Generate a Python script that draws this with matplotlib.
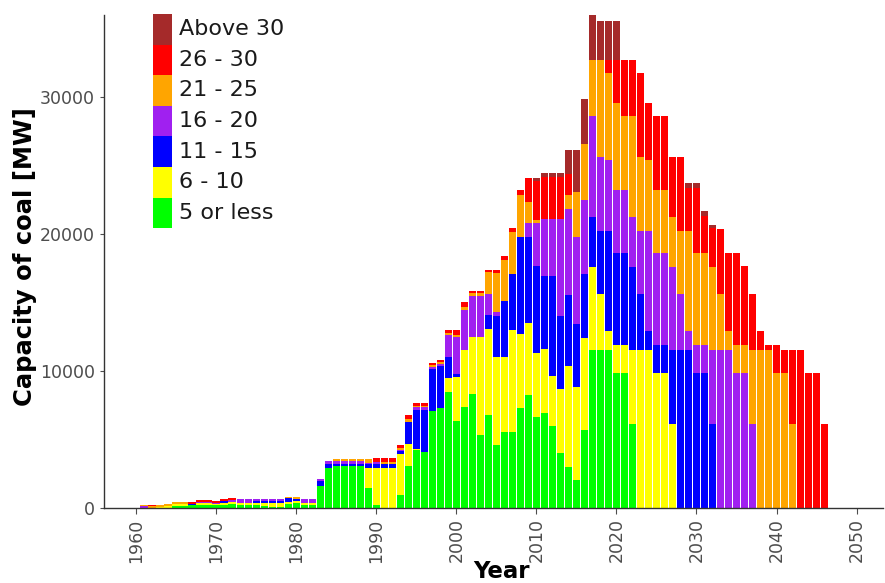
import matplotlib
matplotlib.use('Agg')
import matplotlib.pyplot as plt
from matplotlib.patches import Rectangle
import numpy as np

years = list(range(1961, 2047))

age_0_5 = [0, 0, 0, 0, 150, 150, 200, 250, 250, 220,
           250, 300, 250, 250, 220, 150, 100, 100, 320, 340,
           250, 250, 1610, 2950, 3070, 3070, 3070, 3070, 1490, 220,
           0, 0, 930, 3070, 4220, 4070, 7050, 7290, 8440, 6360,
           7340, 8360, 5340, 6780, 4570, 5580, 5580, 7270, 8270, 6660,
           6970, 6000, 4050, 3000, 2020, 5680, 11540, 11540, 11540, 9830,
           9830, 6170, 0, 0, 0, 0, 0, 0, 0, 0,
           0, 0, 0, 0, 0, 0, 0, 0, 0, 0,
           0, 0, 0, 0, 0, 0]
age_6_10 = [0, 0, 100, 170, 150, 150, 0, 100, 100, 100,
            150, 150, 150, 150, 170, 200, 250, 250, 120, 150,
            120, 120, 0, 0, 0, 0, 0, 0, 1460, 2730,
            2950, 2950, 3040, 1590, 70, 0, 0, 0, 1040, 3170,
            4190, 4150, 7170, 6290, 6430, 5420, 7410, 5430, 5210, 4630,
            4630, 3650, 4630, 7390, 6780, 6730, 6090, 4090, 1360, 2070,
            2070, 5370, 11540, 11540, 9830, 9830, 6170, 0, 0, 0,
            0, 0, 0, 0, 0, 0, 0, 0, 0, 0,
            0, 0, 0, 0, 0, 0]
age_11_15 = [0, 0, 0, 0, 0, 0, 120, 0, 0, 0,
             100, 0, 0, 0, 120, 160, 160, 160, 270, 200,
             0, 0, 370, 245, 170, 170, 170, 170, 240, 290,
             290, 290, 200, 1650, 2880, 3100, 3090, 3100, 1520, 250,
             0, 0, 0, 1050, 3040, 4140, 4100, 7120, 6340, 6410,
             5370, 7320, 5360, 5190, 4630, 4690, 3610, 4630, 7360, 6700,
             6700, 6090, 4090, 1360, 2070, 2070, 5370, 11540, 11540, 9830,
             9830, 6170, 0, 0, 0, 0, 0, 0, 0, 0,
             0, 0, 0, 0, 0, 0]
age_16_20 = [150, 0, 0, 0, 0, 0, 0, 80, 80, 80,
             0, 150, 230, 230, 120, 120, 120, 120, 0, 0,
             260, 260, 120, 245, 170, 170, 170, 170, 120, 150,
             0, 0, 50, 0, 170, 170, 170, 150, 1650, 2730,
             2930, 3000, 3000, 1510, 250, 0, 0, 0, 980, 3100,
             4140, 4140, 7070, 6260, 6340, 5360, 7360, 5360, 5170, 4630,
             4630, 3610, 4630, 7360, 6700, 6700, 6090, 4090, 1360, 2070,
             2070, 5370, 11540, 11540, 9830, 9830, 6170, 0, 0, 0,
             0, 0, 0, 0, 0, 0]
age_21_25 = [50, 160, 100, 150, 140, 140, 0, 0, 0, 0,
             0, 0, 0, 0, 0, 0, 0, 0, 120, 110,
             0, 0, 0, 0, 150, 150, 150, 150, 250, 0,
             150, 150, 190, 170, 120, 120, 120, 120, 100, 140,
             200, 170, 170, 1580, 2860, 2970, 3050, 3070, 1530, 240,
             0, 0, 0, 1050, 3290, 4140, 4140, 7120, 6340, 6340,
             5370, 7360, 5360, 5170, 4630, 4630, 3610, 4630, 7360, 6700,
             6700, 6090, 4090, 1360, 2070, 2070, 5370, 11540, 11540, 9830,
             9830, 6170, 0, 0, 0, 0]
age_26_30 = [0, 40, 0, 0, 0, 0, 120, 130, 130, 110,
             130, 160, 0, 0, 0, 0, 0, 0, 0, 0,
             0, 0, 0, 0, 0, 0, 0, 0, 0, 240,
             240, 240, 170, 300, 240, 240, 130, 140, 250, 350,
             360, 190, 190, 170, 230, 320, 310, 300, 1780, 2870,
             3050, 3050, 3050, 1510, 0, 0, 0, 0, 970, 3170,
             4140, 4140, 6150, 4140, 5370, 5370, 4380, 5360, 3090, 4750,
             2720, 2780, 4760, 5730, 6730, 5760, 4110, 1350, 330, 2040,
             1720, 5380, 11550, 9840, 9840, 6150]
age_above_30 = [0, 0, 0, 0, 0, 0, 0, 0, 0, 0,
                0, 0, 0, 0, 0, 0, 0, 0, 0, 0,
                0, 0, 0, 0, 0, 0, 0, 0, 0, 0,
                0, 0, 0, 0, 0, 0, 0, 0, 0, 0,
                0, 0, 0, 0, 0, 0, 0, 0, 0, 200,
                290, 290, 290, 1760, 3100, 3290, 3250, 2830, 2830, 2830,
                0, 0, 0, 0, 0, 0, 0, 0, 360, 360,
                360, 220, 0, 0, 0, 0, 0, 0, 0, 0,
                0, 0, 0, 0, 0, 0]

series = [age_0_5, age_6_10, age_11_15, age_16_20, age_21_25, age_26_30, age_above_30]
labels = ['5 or less', '6 - 10', '11 - 15', '16 - 20', '21 - 25', '26 - 30', 'Above 30']
colors = ['#00FF00', '#FFFF00', '#0000FF', '#A020F0', '#FFA500', '#FF0000', '#A52A2A']

W, H = 885, 583
fig = plt.figure(figsize=(W / 100, H / 100), dpi=100)
ax = fig.add_axes([104 / W, 1 - 508 / H, (883 - 104) / W, (508 - 15) / H])

bottom = np.zeros(len(years))
for vals, c in zip(series, colors):
    v = np.array(vals, dtype=float)
    ax.bar(years, v, width=0.9, bottom=bottom, color=c, linewidth=0)
    bottom += v

ax.set_xlim(1956.0, 2053.3)
ax.set_ylim(0, 36000)
ax.set_xticks(list(range(1960, 2051, 10)))
ax.set_yticks([0, 10000, 20000, 30000])
ax.tick_params(axis='x', labelrotation=90, labelsize=12.5, labelcolor='#4D4D4D',
               color='#4D4D4D', length=4, width=0.8)
ax.tick_params(axis='y', labelsize=12.5, labelcolor='#4D4D4D',
               color='#4D4D4D', length=3, width=0.8)
for s in ['top', 'right']:
    ax.spines[s].set_visible(False)
for s in ['left', 'bottom']:
    ax.spines[s].set_color('#333333')
    ax.spines[s].set_linewidth(1.0)

fig.text(25 / W, 1 - 257 / H, 'Capacity of coal [MW]', rotation=90,
         ha='center', va='center', fontsize=17.5, fontweight='bold')
fig.text(501 / W, 1 - 572 / H, 'Year', ha='center', va='center',
         fontsize=16.5, fontweight='bold')

# legend (top-left, inside the plot), drawn as keys + labels
key_x0, key_w, key_top, key_h = 153, 19, 14, 30.6
for i, (lab, c) in enumerate(zip(labels[::-1], colors[::-1])):
    y_top = key_top + i * key_h
    fig.patches.append(Rectangle((key_x0 / W, 1 - (y_top + key_h) / H), key_w / W, key_h / H,
                                 transform=fig.transFigure, facecolor=c, edgecolor='none'))
    fig.text(179 / W, 1 - (y_top + key_h / 2) / H, lab, ha='left', va='center',
             fontsize=16, color='#1A1A1A')

fig.savefig('out.png', dpi=100)
